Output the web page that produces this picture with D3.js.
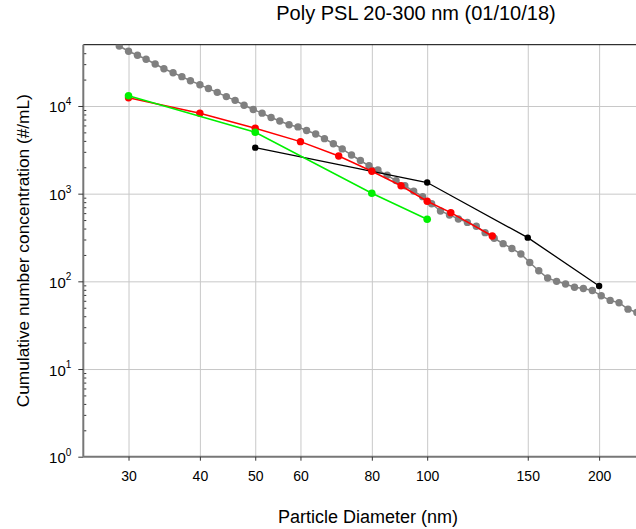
<!DOCTYPE html>
<html lang="en">
<head>
    <meta charset="UTF-8">
    <title>Poly PSL 20-300 nm</title>
    <script src="https://d3js.org/d3.v7.min.js"></script>
    <style>
        body { margin: 0; background: #fff; }
        svg { display: block; font-family: "Liberation Sans", Arial, sans-serif; }
    </style>
</head>
<body>
    <svg id="canvas" width="636" height="529"></svg>
    <script>
        // SMPS scan (grey), channel midpoints in nm and cumulative #/mL
        const scanDiam = [28.9, 30.0, 31.1, 32.2, 33.4, 34.6, 35.9, 37.2, 38.5, 40.0,
            41.4, 42.9, 44.5, 46.1, 47.8, 49.6, 51.4, 53.3, 55.2, 57.3,
            59.4, 61.5, 63.8, 66.1, 68.5, 71.0, 73.7, 76.4, 79.1, 82.0,
            85.1, 88.2, 91.4, 94.7, 98.2, 101.8, 105.5, 109.4, 113.4, 117.6,
            121.9, 126.3, 131.0, 135.8, 140.7, 145.9, 151.2, 156.8, 162.5, 168.5,
            174.7, 181.1, 187.7, 194.6, 201.7, 209.1, 216.7, 224.7, 232.9];
        const scanConc = [48300, 42100, 37900, 34100, 30100, 26600, 23900, 21600, 19400, 17500,
            15800, 14300, 12800, 11600, 10200, 9120, 8280, 7390, 6750, 6120,
            5770, 5260, 4800, 4240, 3710, 3240, 2760, 2390, 2080, 1860,
            1620, 1410, 1230, 1070, 925, 768, 635, 572, 515, 470,
            425, 359, 310, 269, 237, 205, 164, 132, 109, 100,
            93.4, 85.7, 83.0, 78.7, 68.4, 60.6, 57.0, 48.2, 44.2];

        const redDiam = [30, 40, 50, 60, 70, 80, 90, 100, 110, 130];
        const redConc = [12400, 8260, 5570, 3920, 2690, 1800, 1230, 819, 607, 329];

        const greenDiam = [30, 50, 80, 100];
        const greenConc = [13100, 5010, 1010, 511];

        const blackDiam = [50, 100, 150, 200];
        const blackConc = [3350, 1340, 315, 88.6];

        const xTicks = [30, 40, 50, 60, 80, 100, 150, 200];
        const yTicks = [1, 10, 100, 1000, 10000];

        const margin = {left: 83.3, top: 44.7};
        const plotW = 616.4, plotH = 412;

        const svg = d3.select("#canvas");

        const x = d3.scaleLog().domain([25, 300]).range([margin.left, margin.left + plotW]);
        const y = d3.scaleLog().domain([1, 50000]).range([margin.top + plotH, margin.top]);

        // grid
        svg.append("g")
            .attr("transform", `translate(0,${margin.top + plotH})`)
            .call(d3.axisBottom(x).tickValues(xTicks).tickSize(-plotH).tickFormat(""))
            .call(g => g.select(".domain").remove())
            .call(g => g.selectAll("line").attr("stroke", "#c8c8c8"));
        svg.append("g")
            .attr("transform", `translate(${margin.left},0)`)
            .call(d3.axisLeft(y).tickValues(yTicks.slice(1)).tickSize(-plotW).tickFormat(""))
            .call(g => g.select(".domain").remove())
            .call(g => g.selectAll("line").attr("stroke", "#c8c8c8"));

        // top border
        svg.append("line")
            .attr("x1", margin.left).attr("x2", margin.left + plotW)
            .attr("y1", margin.top).attr("y2", margin.top)
            .attr("stroke", "#000").attr("stroke-width", 1);

        svg.append("clipPath").attr("id", "clip")
            .append("rect")
            .attr("x", margin.left).attr("y", margin.top)
            .attr("width", plotW).attr("height", plotH);

        const plot = svg.append("g").attr("clip-path", "url(#clip)");

        let drawSeries = (diam, conc, color, r, lw) => {
            let pts = diam.map((d, i) => [d, conc[i]]);
            plot.append("path")
                .datum(pts)
                .attr("fill", "none")
                .attr("stroke", color)
                .attr("stroke-width", lw)
                .attr("d", d3.line().x(p => x(p[0])).y(p => y(p[1])));
            plot.append("g")
                .selectAll("circle")
                .data(pts)
                .enter()
                .append("circle")
                .attr("cx", p => x(p[0]))
                .attr("cy", p => y(p[1]))
                .attr("r", r)
                .attr("fill", color);
        };

        drawSeries(scanDiam, scanConc, "#808080", 3.7, 1.5);
        drawSeries(blackDiam, blackConc, "#000000", 3.2, 1.3);
        drawSeries(redDiam, redConc, "#ff0000", 3.7, 1.5);
        drawSeries(greenDiam, greenConc, "#00f000", 3.8, 1.5);

        // x axis
        svg.append("g")
            .attr("transform", `translate(0,${margin.top + plotH})`)
            .call(d3.axisBottom(x).tickValues(xTicks).tickSize(4).tickPadding(10).tickFormat(d3.format("d")))
            .call(g => g.select(".domain").attr("stroke", "#777").attr("stroke-width", 2)
                .attr("d", `M${margin.left},0H${margin.left + plotW}`))
            .call(g => g.selectAll("line").attr("stroke", "#333"))
            .call(g => g.selectAll("text").attr("font-size", 14).attr("fill", "#000")
                .attr("font-family", "Liberation Sans, Arial, sans-serif"));

        // y minor ticks
        let minors = [];
        for (let e = 0; e < 5; e++) {
            for (let m = 2; m <= 9; m++) {
                if (m * Math.pow(10, e) < 50000) minors.push(m * Math.pow(10, e));
            }
        }
        svg.append("g")
            .attr("transform", `translate(${margin.left},0)`)
            .call(d3.axisLeft(y).tickValues(minors).tickSize(-3).tickFormat(""))
            .call(g => g.select(".domain").remove())
            .call(g => g.selectAll("line").attr("stroke", "#333"));

        // y axis
        svg.append("g")
            .attr("transform", `translate(${margin.left},0)`)
            .call(d3.axisLeft(y).tickValues(yTicks).tickSize(5).tickFormat(""))
            .call(g => g.select(".domain").attr("stroke", "#777").attr("stroke-width", 2)
                .attr("d", `M0,${margin.top + plotH}V${margin.top}`))
            .call(g => g.selectAll("line").attr("stroke", "#333"))
            .call(g => g.selectAll(".tick text").each(function(d) {
                let t = d3.select(this)
                    .attr("x", -12)
                    .attr("dy", "0.4em")
                    .attr("font-size", 15)
                    .attr("fill", "#000")
                    .attr("font-family", "Liberation Sans, Arial, sans-serif")
                    .attr("text-anchor", "end");
                t.append("tspan").text("10");
                t.append("tspan")
                    .attr("font-size", 10)
                    .attr("dy", "-0.75em")
                    .text(Math.round(Math.log10(d)));
            }));

        // title and labels
        svg.append("text")
            .attr("x", 416).attr("y", 20)
            .attr("text-anchor", "middle")
            .attr("font-size", 20)
            .text("Poly PSL 20-300 nm (01/10/18)");

        svg.append("text")
            .attr("x", 368).attr("y", 522.5)
            .attr("text-anchor", "middle")
            .attr("font-size", 18)
            .text("Particle Diameter (nm)");

        svg.append("text")
            .attr("transform", `translate(29,${margin.top + plotH / 2}) rotate(-90)`)
            .attr("text-anchor", "middle")
            .attr("font-size", 17.3)
            .text("Cumulative number concentration (#/mL)");
    </script>
</body>
</html>
